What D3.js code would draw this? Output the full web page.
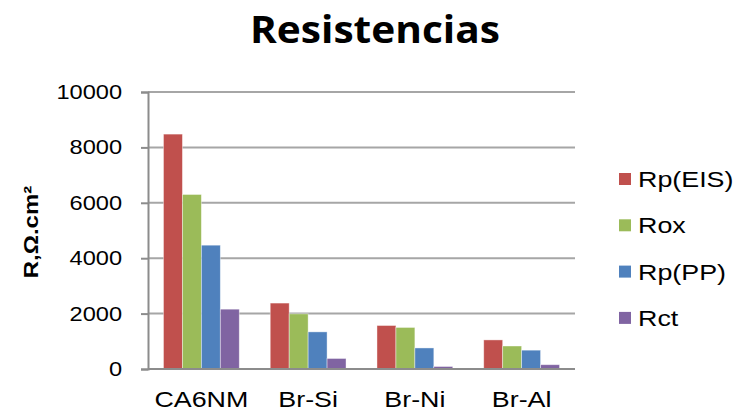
<!DOCTYPE html>
<html>
<head>
<meta charset="utf-8">
<script src="https://cdn.jsdelivr.net/npm/d3@7"></script>
<style>
  body { margin: 0; background: #fff; }
  text { font-family: "Liberation Sans", Arial, sans-serif; fill: #000; }
</style>
</head>
<body>
<div id="chart"></div>
<script>
// Data
const categories = ["CA6NM", "Br-Si", "Br-Ni", "Br-Al"];
const seriesNames = ["Rp(EIS)", "Rox", "Rp(PP)", "Rct"];
const rpEIS = [8480, 2380, 1570, 1050];
const rox = [6300, 1990, 1500, 830];
const rpPP = [4470, 1340, 760, 680];
const rct = [2160, 380, 90, 155];
const yTicks = [0, 2000, 4000, 6000, 8000, 10000];
const colors = ["#C0504D", "#9BBB59", "#4F81BD", "#8064A2"];

const seriesValues = [rpEIS, rox, rpPP, rct];

const width = 735;
const height = 414;
const margin = { top: 92, right: 160, bottom: 45, left: 148 };

// Stretch text horizontally (the original looks widened)
function stretch(sel, k) {
    sel.each(function () {
        const w = this.getComputedTextLength();
        d3.select(this)
            .attr("textLength", w * k)
            .attr("lengthAdjust", "spacingAndGlyphs");
    });
}

const svg = d3.select("#chart")
    .append("svg")
    .attr("width", width)
    .attr("height", height);

// Scales
const x0 = d3.scaleBand()
    .domain(categories)
    .range([margin.left, width - margin.right])
    .paddingInner(0.29)
    .paddingOuter(0.145);

const x1 = d3.scaleBand()
    .domain(seriesNames)
    .range([0, x0.bandwidth()]);

const y = d3.scaleLinear()
    .domain([0, 10000])
    .range([height - margin.bottom, margin.top]);

// Gridlines
svg.append("g")
    .selectAll("line")
    .data(yTicks.filter(d => d > 0))
    .join("line")
    .attr("x1", margin.left)
    .attr("x2", width - margin.right)
    .attr("y1", d => y(d))
    .attr("y2", d => y(d))
    .attr("stroke", "#a6a6a6")
    .attr("stroke-width", 2);

// Y axis
const yAxis = d3.axisLeft(y).tickValues(yTicks).tickFormat(d3.format("d")).tickSize(7).tickPadding(19);
const yG = svg.append("g")
    .attr("transform", `translate(${margin.left},0)`)
    .call(yAxis);
yG.select(".domain").attr("stroke", "#8c8c8c").attr("stroke-width", 2);
yG.selectAll(".tick line").attr("stroke", "#8c8c8c").attr("stroke-width", 2);
yG.selectAll(".tick text")
    .attr("font-size", 20)
    .attr("fill", "#000")
    .call(stretch, 1.18);

// Bars
const groups = svg.append("g")
    .selectAll("g")
    .data(categories)
    .join("g")
    .attr("transform", d => `translate(${x0(d)},0)`);

groups.selectAll("rect")
    .data((c, i) => seriesNames.map((s, j) => ({ s, j, v: seriesValues[j][i] })))
    .join("rect")
    .attr("x", d => x1(d.s))
    .attr("y", d => y(d.v))
    .attr("width", x1.bandwidth())
    .attr("height", d => y(0) - y(d.v))
    .attr("fill", d => colors[d.j])
    .attr("stroke", "#ffffff")
    .attr("stroke-opacity", 0.5)
    .attr("stroke-width", 0.8);

// X axis baseline
const xAxis = d3.axisBottom(x0).tickSize(0).tickPadding(22);
const xG = svg.append("g")
    .attr("transform", `translate(0,${y(0)})`)
    .call(xAxis);
xG.select(".domain")
    .attr("d", `M${margin.left},0H${width - margin.right}`)
    .attr("stroke", "#8c8c8c")
    .attr("stroke-width", 2);
xG.selectAll(".tick text")
    .attr("font-size", 22)
    .attr("fill", "#000")
    .call(stretch, 1.22);

// Title
svg.append("text")
    .attr("x", 375)
    .attr("y", 43)
    .attr("text-anchor", "middle")
    .style("font-family", "'Open Sans', sans-serif")
    .style("font-weight", "bold")
    .style("font-size", "38px")
    .text("Resistencias")
    .call(stretch, 1.0)
    .attr("textLength", 250);

// Y axis label
svg.append("text")
    .attr("transform", "translate(38,232) rotate(-90)")
    .attr("text-anchor", "middle")
    .style("font-weight", "bold")
    .style("font-size", "20px")
    .text("R,Ω.cm²")
    .call(stretch, 1.2);

// Legend
const legend = svg.append("g")
    .selectAll("g")
    .data(seriesNames)
    .join("g")
    .attr("transform", (d, i) => `translate(619,${179 + i * 46.3})`);

legend.append("rect")
    .attr("x", 0)
    .attr("y", -6)
    .attr("width", 12)
    .attr("height", 12)
    .attr("fill", (d, i) => colors[i]);

legend.append("text")
    .attr("x", 19)
    .attr("y", 8)
    .style("font-size", "22px")
    .text(d => d)
    .call(stretch, 1.22);
</script>
</body>
</html>
